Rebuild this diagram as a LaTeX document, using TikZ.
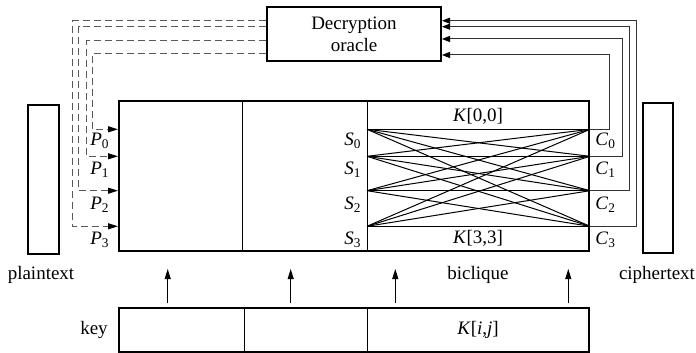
\documentclass[tikz,border=0pt]{standalone}
\usepackage{fontspec}
\setmainfont{Liberation Serif}
\usetikzlibrary{arrows.meta,calc}
\begin{document}
\begin{tikzpicture}[x=0.5pt,y=-0.5pt,
  font=\fontsize{9.5}{11}\selectfont,
  thickbox/.style={draw=black,line width=1pt,inner sep=0pt,fill=none},
  thin/.style={line width=0.5pt},
  dashline/.style={draw=black!65,line width=0.5pt,dash pattern=on 3.5pt off 2pt,-{Triangle[length=5pt,width=3pt,color=black]}},
  solidline/.style={draw=black!80,line width=0.5pt,-{Triangle[length=4pt,width=3pt,color=black]}},
  uparrow/.style={draw=black,line width=0.5pt,-{Triangle[length=5pt,width=3pt]}},
  lbl/.style={inner sep=0pt}]
\useasboundingbox (0,0) rectangle (696,353);
% boxes
\node[thickbox,minimum width=87pt,minimum height=27pt,align=center] (oracle) at (354,34) {Decryption\\oracle};
\node[thickbox,minimum width=235pt,minimum height=75pt] (main) at (354,176) {};
\node[thickbox,minimum width=15.5pt,minimum height=74.5pt] (pt) at (43.5,179.5) {};
\node[thickbox,minimum width=15pt,minimum height=75pt] (ct) at (658,178) {};
\node[thickbox,minimum width=235pt,minimum height=22pt] (key) at (354,330) {};
% dividers
\draw[thin] (main.north -| 242,0) -- (main.south -| 242,0);
\draw[thin] (main.north -| 367,0) -- (main.south -| 367,0);
\draw[thin] (key.north -| 244,0) -- (key.south -| 244,0);
\draw[thin] (key.north -| 367,0) -- (key.south -| 367,0);
% biclique points
\foreach \i/\y in {0/129.3,1/156.3,2/190.7,3/226.3}{
  \coordinate (L\i) at (367,\y);
  \coordinate (R\i) at (main.east |- 0,\y);
}
\foreach \i in {0,...,3}{\foreach \j in {0,...,3}{\draw[thin] (L\i) -- (R\j);}}
% labels
\node[lbl] (k00) at (478,116) {\textit{K}[0,0]};
\node[lbl] (k33) at (478,238) {\textit{K}[3,3]};
\node[lbl] (kij) at (478,330) {\textit{K}[\textit{i},\textit{j}]};
\foreach \i/\y in {0/141,1/170,2/205,3/240}{
  \node[lbl,anchor=east] (S\i) at (362,\y) {\textit{S}\textsubscript{\i}};
  \node[lbl,anchor=west] (C\i) at (595,\y) {\textit{C}\textsubscript{\i}};
  \node[lbl] (P\i) at (100,\y) {\textit{P}\textsubscript{\i}};
}
\node[lbl] (ptl) at (41,275) {plaintext};
\node[lbl] (ctl) at (657,275) {ciphertext};
\node[lbl] (bcl) at (478,275) {biclique};
\node[lbl] (keyl) at (94,330) {key};
% dashed connectors oracle -> P
\draw[dashline] (oracle.west |- 0,21) -- (72.7,21) |- (main.west |- L3);
\draw[dashline] (oracle.west |- 0,26.7) -- (78.7,26.7) |- (main.west |- L2);
\draw[dashline] (oracle.west |- 0,41) -- (86.7,41) |- (main.west |- L1);
\draw[dashline] (oracle.west |- 0,53.3) -- (92.7,53.3) |- (main.west |- L0);
% solid connectors C -> oracle
\draw[solidline] (R3) -- (636.7,0 |- R3) |- (oracle.east |- 0,20.7);
\draw[solidline] (R2) -- (629,0 |- R2) |- (oracle.east |- 0,26.7);
\draw[solidline] (R1) -- (622.7,0 |- R1) |- (oracle.east |- 0,39);
\draw[solidline] (R0) -- (609,0 |- R0) |- (oracle.east |- 0,55);
% key to biclique arrows
\foreach \n/\x in {a/167.7,b/290.7,c/395.3,d/568.3}{
  \coordinate (ks\n) at (\x,302.7);
  \coordinate (ke\n) at (\x,269);
  \draw[uparrow] (ks\n) -- (ke\n);
}
\end{tikzpicture}
\end{document}
